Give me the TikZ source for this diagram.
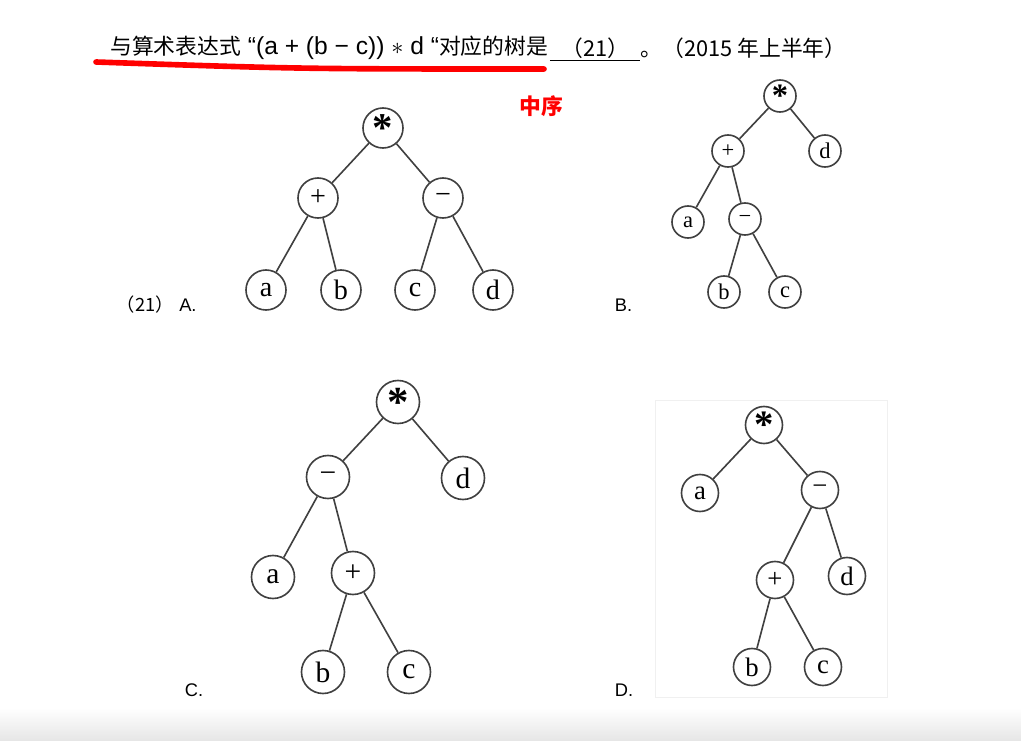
\documentclass[tikz,border=0pt]{standalone}
\usepackage{fontspec}
\setmainfont{Liberation Sans}
\newfontfamily\cjk{Noto Sans CJK SC}
\newfontfamily\treefont{Liberation Serif}
\usetikzlibrary{positioning}

\tikzset{
  vertex/.style={circle,draw=black!75,line width=1.15pt,inner sep=0pt},
  nodeA/.style={vertex,minimum size=1cm,font=\treefont\fontsize{20}{20}\selectfont},
  nodeB/.style={vertex,minimum size=0.8cm,font=\treefont\fontsize{16}{16}\selectfont},
  nodeC/.style={vertex,minimum size=1.075cm,font=\treefont\fontsize{21}{21}\selectfont},
  nodeD/.style={vertex,minimum size=0.925cm,font=\treefont\fontsize{19}{19}\selectfont},
  edge/.style={draw=black!75,line width=1.15pt},
  choice/.style={anchor=west,font=\fontsize{13}{14}\selectfont},
}
\newcommand{\opstar}{\raisebox{-0.5em}{\bfseries\scalebox{1.45}{*}}}

\begin{document}
\begin{tikzpicture}[x=0.025cm,y=-0.025cm]
\useasboundingbox (0,0) rectangle (1021,741);
\fill[white] (0,0) rectangle (1021,741);
\shade[top color=white,bottom color=black!10] (0,708) rectangle (1021,741);

% question
\node[anchor=west,font=\fontsize{15.5}{17}\selectfont,inner sep=0pt] (head) at (110,48) {\cjk 与算术表达式{\normalfont\fontsize{17.5}{18}\selectfont\ “(a + (b − c)) $\ast$ d “}对应的树是};
\node[right=1pt of head,font=\fontsize{15.5}{17}\selectfont,inner sep=0pt,minimum width=2.25cm] (blank) {\cjk （21）};
\node[right=0pt of blank,font=\fontsize{15.5}{17}\selectfont,inner sep=0pt] (tail) {\cjk 。（2015 年上半年）};
\draw[line width=1pt] ([yshift=-3pt]blank.base west) -- ([yshift=-3pt]blank.base east);
\coordinate (hlL) at (96,62);
\coordinate (hlR) at (544,69);
\draw[red,line width=4pt,line cap=round] (hlL) .. controls (300,69) .. (hlR);
\node[text=red,font=\cjk\bfseries\fontsize{15.5}{16}\selectfont] (inorder) at (541,106) {中序};

% tree A
\node[choice] (labA) at (112,305) {{\cjk （21）}\hspace{0.3em}A.};
\node[nodeA] (Aroot) at (383,128) {\opstar};
\node[nodeA] (Aplus) at (318,198) {+};
\node[nodeA] (Aminus) at (443,198) {−};
\node[nodeA] (Aa) at (266,290) {a};
\node[nodeA] (Ab) at (341,290) {b};
\node[nodeA] (Ac) at (415,290) {c};
\node[nodeA] (Ad) at (493,290) {d};
\draw[edge] (Aroot) -- (Aplus);
\draw[edge] (Aroot) -- (Aminus);
\draw[edge] (Aplus) -- (Aa);
\draw[edge] (Aplus) -- (Ab);
\draw[edge] (Aminus) -- (Ac);
\draw[edge] (Aminus) -- (Ad);

% tree B
\node[choice] (labB) at (610,305) {B.};
\node[nodeB] (Broot) at (780,96) {\opstar};
\node[nodeB] (Bplus) at (728,151) {+};
\node[nodeB] (Bd) at (825,151) {d};
\node[nodeB] (Ba) at (688,222) {a};
\node[nodeB] (Bminus) at (745,219) {−};
\node[nodeB] (Bb) at (724,292) {b};
\node[nodeB] (Bc) at (785,292) {c};
\draw[edge] (Broot) -- (Bplus);
\draw[edge] (Broot) -- (Bd);
\draw[edge] (Bplus) -- (Ba);
\draw[edge] (Bplus) -- (Bminus);
\draw[edge] (Bminus) -- (Bb);
\draw[edge] (Bminus) -- (Bc);

% tree C
\node[choice] (labC) at (180,690) {C.};
\node[nodeC] (Croot) at (398,402) {\opstar};
\node[nodeC] (Cminus) at (328,477) {−};
\node[nodeC] (Cd) at (463,478) {d};
\node[nodeC] (Ca) at (273,577) {a};
\node[nodeC] (Cplus) at (353,573) {+};
\node[nodeC] (Cb) at (323,672) {b};
\node[nodeC] (Cc) at (409,672) {c};
\draw[edge] (Croot) -- (Cminus);
\draw[edge] (Croot) -- (Cd);
\draw[edge] (Cminus) -- (Ca);
\draw[edge] (Cminus) -- (Cplus);
\draw[edge] (Cplus) -- (Cb);
\draw[edge] (Cplus) -- (Cc);

% tree D
\draw[black!6] (655,400) rectangle (887,697);
\node[choice] (labD) at (610,690) {D.};
\node[nodeD] (Droot) at (764,425) {\opstar};
\node[nodeD] (Da) at (700,493) {a};
\node[nodeD] (Dminus) at (820,490) {−};
\node[nodeD] (Dplus) at (775,580) {+};
\node[nodeD] (Dd) at (847,576) {d};
\node[nodeD] (Db) at (752,667) {b};
\node[nodeD] (Dc) at (823,667) {c};
\draw[edge] (Droot) -- (Da);
\draw[edge] (Droot) -- (Dminus);
\draw[edge] (Dminus) -- (Dplus);
\draw[edge] (Dminus) -- (Dd);
\draw[edge] (Dplus) -- (Db);
\draw[edge] (Dplus) -- (Dc);
\end{tikzpicture}
\end{document}
